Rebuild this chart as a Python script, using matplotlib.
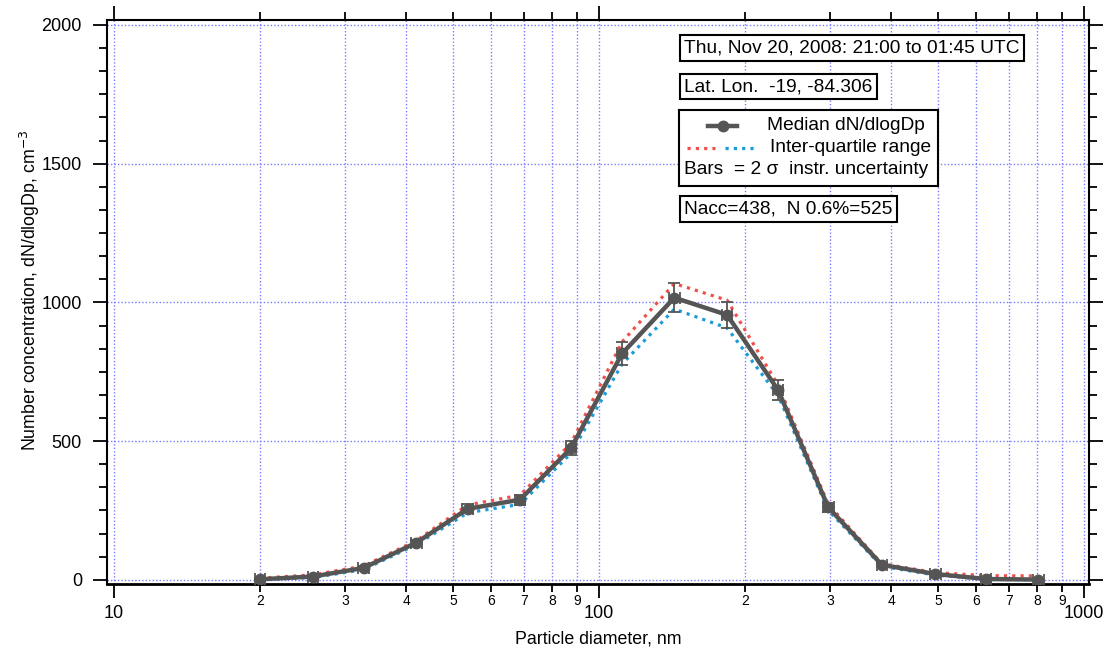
import numpy as np
import matplotlib
matplotlib.use('Agg')
import matplotlib.pyplot as plt
from matplotlib.ticker import FixedLocator, FuncFormatter, MultipleLocator, AutoMinorLocator

plt.rcParams['font.family'] = ['Liberation Sans', 'DejaVu Sans']

# particle diameter, nm
dp = [20.0, 25.7, 32.7, 42.0, 53.6, 68.7, 87.5, 111.6, 143.0, 183.7, 234.0, 297.0, 383.0, 494.0, 628.0, 805.0]
# median dN/dlogDp, cm-3
median = [2, 12, 43, 134, 256, 289, 474, 816, 1017, 955, 684, 261, 54, 21, 3, 1]
# upper / lower quartiles
q75 = [6, 18, 50, 141, 270, 305, 492, 858, 1068, 1008, 702, 272, 58, 26, 15, 14]
q25 = [0, 8, 37, 127, 242, 272, 456, 778, 976, 908, 664, 250, 49, 17, 2, 0]
# 2 sigma instrument uncertainty
yerr = [3, 4, 6, 10, 16, 18, 25, 42, 52, 47, 36, 15, 5, 4, 3, 3]
xerr_pct = [2.5, 2.5, 2.5, 2.5, 2.5, 2.5, 2.5, 2.5, 2.5, 2.5, 2.5, 2.5, 2.5, 2.5, 2.5, 2.5]

date_txt = 'Thu, Nov 20, 2008: 21:00 to 01:45 UTC'
pos_txt = 'Lat. Lon.  -19, -84.306'
n_txt = 'Nacc=438,  N 0.6%=525'

W, H = 1108, 656
fig = plt.figure(figsize=(W / 100, H / 100), dpi=100)
ax = fig.add_axes([107 / W, 1 - 584 / H, (1089 - 107) / W, (584 - 20) / H])

grid_c = '#7b7bff'
red = '#f0504a'
blue = '#1b9bd7'
gray = '#555555'
fs_box = 13.8

dp_a = np.array(dp)
xlo = dp_a * np.array(xerr_pct) / 100.0
ax.errorbar(dp, median, yerr=yerr, xerr=[xlo, xlo], fmt='none', ecolor=gray,
            elinewidth=1.3, capsize=4.5, capthick=1.3, zorder=4)
ax.plot(dp, q75, color=red, lw=2.3, linestyle=(0, (1, 1.6)), zorder=3)
ax.plot(dp, q25, color=blue, lw=2.3, linestyle=(0, (1, 1.6)), zorder=3)
ax.plot(dp, median, color=gray, lw=3.2, marker='o', ms=7.5, mfc=gray, mec=gray, zorder=5)

ax.set_xscale('log')
ax.set_xlim(9.67, 1024)
ax.set_ylim(-15, 2018)

majors = [10, 100, 1000]
minors = [m * d for d in (10, 100) for m in range(2, 10)]
ax.xaxis.set_major_locator(FixedLocator(majors))
ax.xaxis.set_minor_locator(FixedLocator(minors))
ax.xaxis.set_major_formatter(FuncFormatter(lambda v, p: '%d' % v))
ax.xaxis.set_minor_formatter(FuncFormatter(lambda v, p: '%d' % round(v / 10 ** np.floor(np.log10(v) + 1e-9))))
ax.yaxis.set_major_locator(MultipleLocator(500))
ax.yaxis.set_minor_locator(AutoMinorLocator(6))

ax.tick_params(which='both', direction='out', top=True, right=True, width=1.3, color='black')
ax.tick_params(which='major', length=10)
ax.tick_params(which='minor', length=5.5)
ax.tick_params(axis='x', which='major', labelsize=13, pad=5)
ax.tick_params(axis='x', which='minor', labelsize=10, pad=1.5)
ax.tick_params(axis='y', which='major', labelsize=13, pad=8)

# grid on major y and all x ticks
ax.grid(True, axis='y', which='major', color=grid_c, lw=1, linestyle=(0, (1, 1.5)))
ax.grid(True, axis='x', which='both', color=grid_c, lw=1, linestyle=(0, (1, 1.5)))
ax.set_axisbelow(True)

for s in ax.spines.values():
    s.set_linewidth(1.5)
ax.spines['bottom'].set_linewidth(2)

ax.set_xlabel('Particle diameter, nm', fontsize=12.8, labelpad=6)
ax.set_ylabel('Number concentration, dN/dlogDp, cm$^{-3}$', fontsize=12.8)
ax.yaxis.set_label_coords(-0.066, 0.52)

box = dict(boxstyle='square,pad=0.22', fc='white', ec='black', lw=1.5)
fig.text(684 / W, 1 - 48 / H, date_txt, fontsize=fs_box, va='center', ha='left', bbox=box, zorder=10)
fig.text(684 / W, 1 - 86.5 / H, pos_txt, fontsize=fs_box, va='center', ha='left', bbox=box, zorder=10)
fig.text(684 / W, 1 - 209 / H, n_txt, fontsize=fs_box, va='center', ha='left', bbox=box, zorder=10)

# legend box
lg = fig.add_axes([679 / W, 1 - 186 / H, 259 / W, 76 / H])
lg.set_xlim(0, 259)
lg.set_ylim(76, 0)
lg.set_xticks([])
lg.set_yticks([])
for s in lg.spines.values():
    s.set_linewidth(1.5)
lg.plot([29, 58], [16, 16], color=gray, lw=3.2)
lg.plot([43.5], [16], color=gray, marker='o', ms=7.5)
lg.plot([8, 36], [38, 38], color=red, lw=2.3, linestyle=(0, (1, 1.6)))
lg.plot([46, 76], [38, 38], color=blue, lw=2.3, linestyle=(0, (1, 1.6)))
lg.text(88, 16, 'Median dN/dlogDp', fontsize=fs_box, va='center', ha='left')
lg.text(91, 38, 'Inter-quartile range', fontsize=fs_box, va='center', ha='left')
lg.text(5, 60, 'Bars  = 2 σ  instr. uncertainty', fontsize=fs_box, va='center', ha='left')

fig.savefig('out.png', dpi=100)
